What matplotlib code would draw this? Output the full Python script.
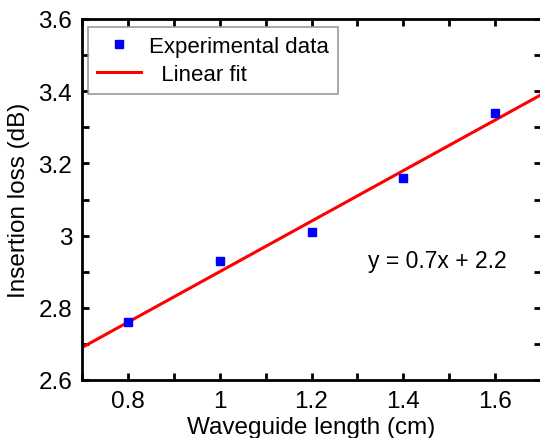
import matplotlib
matplotlib.use("Agg")
import matplotlib.pyplot as plt
import numpy as np
from matplotlib.ticker import MultipleLocator

plt.rcParams['font.family'] = ['Liberation Sans', 'DejaVu Sans']

length_cm = [0.8, 1.0, 1.2, 1.4, 1.6]
insertion_loss_db = [2.76, 2.93, 3.01, 3.16, 3.34]
fit_slope = 0.7
fit_intercept = 2.2
fit_x = [0.7, 1.7]
fit_label = "y = 0.7x + 2.2"

fig = plt.figure(figsize=(5.40, 4.39), dpi=100)
W, H = 540, 439
x0, x1, y0, y1 = 82, 541, 20, 381
ax = fig.add_axes([x0 / W, 1 - y1 / H, (x1 - x0) / W, (y1 - y0) / H])

fx = np.array(fit_x)
ax.plot(fx, fit_slope * fx + fit_intercept, color='#ff0000', lw=2.2,
        label='  Linear fit', zorder=2)
ax.plot(length_cm, insertion_loss_db, 's', color='#0000ff', ms=6,
        mec='#0000ff', label='Experimental data', zorder=3, lw=0)

ax.set_xlim(0.7, 1.7)
ax.set_ylim(2.6, 3.6)
ax.set_xticks([0.8, 1.0, 1.2, 1.4, 1.6])
ax.set_xticklabels(['0.8', '1', '1.2', '1.4', '1.6'])
ax.set_yticks([2.6, 2.8, 3.0, 3.2, 3.4, 3.6])
ax.set_yticklabels(['2.6', '2.8', '3', '3.2', '3.4', '3.6'])
ax.xaxis.set_minor_locator(MultipleLocator(0.1))
ax.yaxis.set_minor_locator(MultipleLocator(0.1))
ax.tick_params(which='both', direction='in', top=True, right=True,
               width=2, length=5, labelsize=17.5, pad=7, colors='black')
ax.tick_params(which='minor', length=5)
for s in ax.spines.values():
    s.set_linewidth(2)

ax.set_xlabel('Waveguide length (cm)', fontsize=17.5, labelpad=3)
ax.set_ylabel('Insertion loss (dB)', fontsize=17.5, labelpad=6)

handles, labels = ax.get_legend_handles_labels()
leg = ax.legend(handles[::-1], labels[::-1], loc='upper left',
                bbox_to_anchor=(0.013, 0.978), fontsize=16, frameon=True,
                fancybox=False, edgecolor='#808080', borderpad=0.4,
                handlelength=2.0, labelspacing=0.33, borderaxespad=0,
                handletextpad=0.35)
leg.get_frame().set_linewidth(1.2)

ax.text(1.324, 2.93, fit_label, fontsize=16.5, va='center', ha='left')

fig.savefig('out.png', dpi=100)
